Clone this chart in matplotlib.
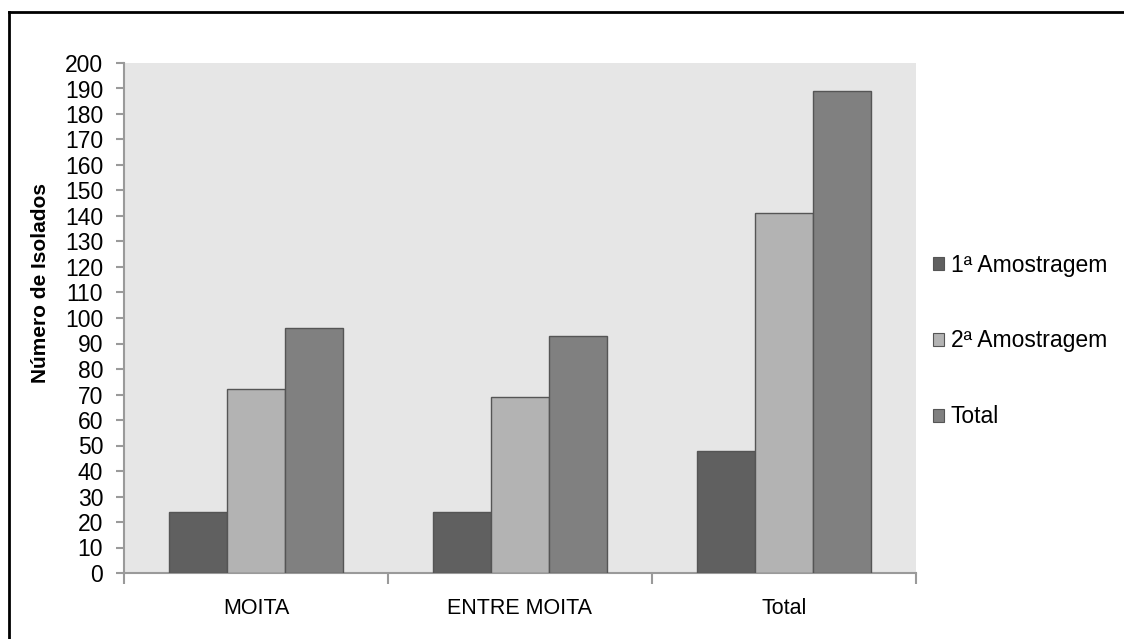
import numpy as np
import matplotlib.pyplot as plt
from matplotlib.lines import Line2D
from matplotlib.patches import Patch


# Isolate counts per site and sampling
categories = ["MOITA", "ENTRE MOITA", "Total"]
series_names = ["1ª Amostragem", "2ª Amostragem", "Total"]
amostragem_1 = [24, 24, 48]
amostragem_2 = [72, 69, 141]
total = [96, 93, 189]
y_ticks = list(range(0, 201, 10))

colors = ["#606060", "#b3b3b3", "#808080"]
edge = "#555555"

W, H = 1124, 639
fig = plt.figure(figsize=(W / 100, H / 100), dpi=100)
fig.patch.set_facecolor("white")

font = ["Liberation Sans", "DejaVu Sans"]

ax = fig.add_axes([124 / W, (H - 573) / H, (916 - 124) / W, (573 - 63) / H])
ax.set_facecolor("#e6e6e6")

x = np.arange(len(categories)) + 0.5
bw = 58 / 264
for i, vals in enumerate([amostragem_1, amostragem_2, total]):
    ax.bar(x + (i - 1) * bw, vals, width=bw, color=colors[i],
           edgecolor=edge, linewidth=1.0, zorder=3)

ax.set_xlim(0, 3)
ax.set_ylim(0, 200)

for side in ["top", "right"]:
    ax.spines[side].set_visible(False)
for side in ["left", "bottom"]:
    ax.spines[side].set_color("#9a9a9a")
    ax.spines[side].set_linewidth(1.5)

ax.set_yticks(y_ticks)
ax.set_yticklabels([str(v) for v in y_ticks], family=font, fontsize=16.5)
ax.tick_params(axis="y", length=6, width=1.5, color="#9a9a9a", pad=9)

ax.set_xticks([0, 1, 2, 3])
ax.set_xticklabels([])
ax.tick_params(axis="x", which="major", length=8, width=1.5, color="#9a9a9a",
               direction="out")
ax.set_xticks(x, minor=True)
ax.set_xticklabels(categories, minor=True, family=font, fontsize=15.5)
ax.tick_params(axis="x", which="minor", length=0, pad=18)

fig.text(41 / W, 1 - 283 / H, "Número de Isolados", rotation=90,
         ha="center", va="center", fontsize=15, fontweight="bold",
         family=font)

# legend, stacked with wide gaps
handles = [Patch(facecolor=c, edgecolor=edge, linewidth=0.8) for c in colors]
fig.legend(handles, series_names, loc="center left",
           bbox_to_anchor=(912 / W, 1 - 341 / H), frameon=False,
           handlelength=0.5, handleheight=0.5, handletextpad=0.3,
           labelspacing=2.3, prop={"family": font, "size": 16.5})

# outer frame: top and left edges only
fig.add_artist(Line2D([8.5 / W, 1], [1 - 11.5 / H, 1 - 11.5 / H],
                      transform=fig.transFigure, color="black", lw=2))
fig.add_artist(Line2D([8.5 / W, 8.5 / W], [0, 1 - 11.5 / H],
                      transform=fig.transFigure, color="black", lw=2))

fig.savefig("out.png", dpi=100)
